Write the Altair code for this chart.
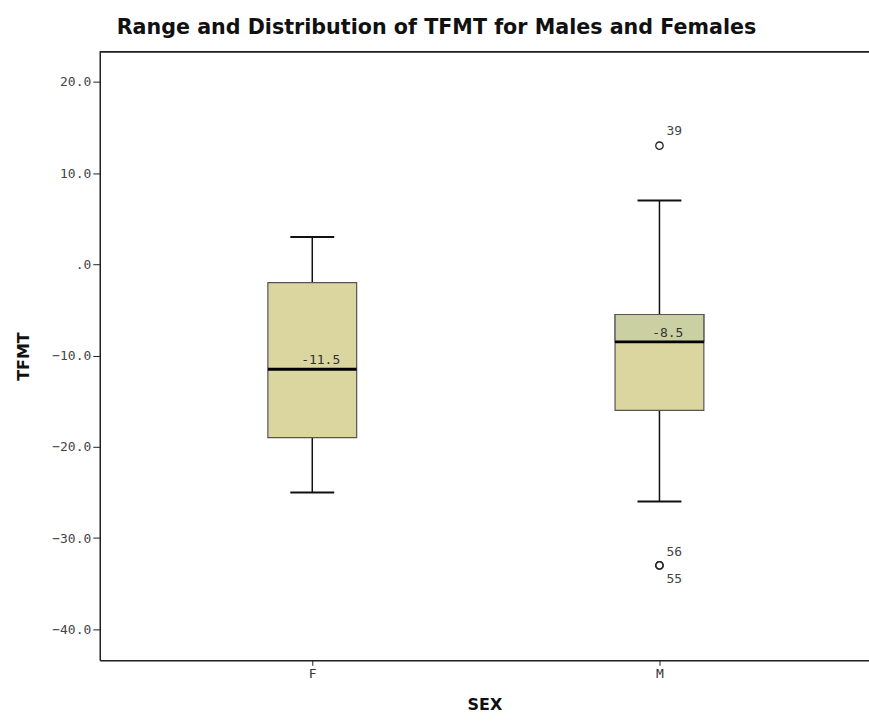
import altair as alt
import pandas as pd

# Summary statistics of TFMT by sex
sexes = ["F", "M"]
q1 = [-19.0, -16.0]
median = [-11.5, -8.5]
q3 = [-2.0, -5.5]
whisker_lo = [-25.0, -26.0]
whisker_hi = [3.0, 7.0]
median_labels = ["-11.5", "-8.5"]
median_dx = [28, 24]

# Outlying cases (case numbers as labels)
outlier_sex = ["M", "M", "M"]
outlier_value = [13.0, -33.0, -33.0]
outlier_label = ["39", "56", "55"]
outlier_dy = [-15, -13, 14]

stats = pd.DataFrame({
    "SEX": sexes, "q1": q1, "median": median, "q3": q3,
    "lo": whisker_lo, "hi": whisker_hi, "mlabel": median_labels,
})
outliers = pd.DataFrame({
    "SEX": outlier_sex, "value": outlier_value, "label": outlier_label,
})

FONT = "DejaVu Sans"
MONO = "DejaVu Sans Mono"
y_dom = [-43.4, 23.3]
PLOT_W = 771

x_enc = alt.X(
    "SEX:N",
    title="SEX",
    scale=alt.Scale(type="point", domain=sexes, padding=0.6078, align=0.5035),
    axis=alt.Axis(
        labelAngle=0, labelFont=MONO, labelFontSize=13, labelColor="#333",
        tickColor="#222", tickSize=5, domainColor="#222", domainWidth=1.5,
        titleFont=FONT, titleFontSize=16, titleFontWeight="bold",
        titleColor="#111", titlePadding=16, grid=False, labelPadding=2,
    ),
)
y_scale = alt.Scale(domain=y_dom, nice=False, zero=False)
y_axis = alt.Axis(
    values=[20, 10, 0, -10, -20, -30, -40],
    labelExpr="datum.value == 0 ? '.0' : format(datum.value, '.1f')",
    labelFont=MONO, labelFontSize=13, labelColor="#444",
    tickColor="#222", tickSize=7, domainColor="#222", domainWidth=1.5,
    titleFont=FONT, titleFontSize=16, titleFontWeight="bold",
    titleColor="#111", titlePadding=20, grid=False, labelPadding=2,
)

base = alt.Chart(stats).encode(x=x_enc)

whiskers = base.mark_rule(color="#111", strokeWidth=1.5).encode(
    y=alt.Y("lo:Q", scale=y_scale, axis=y_axis, title="TFMT"), y2="hi:Q"
)
boxes = base.mark_bar(
    size=89, fill="#dbd69f", stroke="#555", strokeWidth=1.2
).encode(y="q1:Q", y2="q3:Q")

# Upper segment of the male box is shaded slightly greener
upper_m = alt.Chart(stats).transform_filter("datum.SEX == 'M'").mark_bar(
    size=89, fill="#cad0a1", stroke="#555", strokeWidth=1.2
).encode(x=x_enc, y="median:Q", y2="q3:Q")

medians = base.mark_tick(
    size=89, thickness=3, color="#000", opacity=1, orient="horizontal"
).encode(y="median:Q")
cap_lo = base.mark_tick(
    size=44, thickness=2, color="#111", opacity=1, orient="horizontal"
).encode(y="lo:Q")
cap_hi = base.mark_tick(
    size=44, thickness=2, color="#111", opacity=1, orient="horizontal"
).encode(y="hi:Q")

med_texts = [
    alt.Chart(stats).transform_filter(alt.datum.SEX == s).mark_text(
        align="right", baseline="bottom", dx=dx, dy=-2,
        font=MONO, fontSize=13, color="#333",
    ).encode(x=x_enc, y="median:Q", text="mlabel:N")
    for s, dx in zip(sexes, median_dx)
]

pts = alt.Chart(outliers).mark_point(
    shape="circle", size=55, filled=False, color="#222", strokeWidth=1.3, opacity=1
).encode(x=x_enc, y="value:Q")

pt_texts = [
    alt.Chart(outliers).transform_filter(alt.datum.label == lab).mark_text(
        align="left", baseline="middle", dx=7, dy=dy,
        font=MONO, fontSize=13, color="#444",
    ).encode(x=x_enc, y="value:Q", text="label:N")
    for lab, dy in zip(outlier_label, outlier_dy)
]

# Top border of the plot frame
top_border = alt.Chart(stats).mark_rule(color="#222", strokeWidth=1.5).encode(
    x=alt.value(0), x2=alt.value(PLOT_W), y=alt.value(0)
)

chart = alt.layer(
    whiskers, boxes, upper_m, medians, cap_lo, cap_hi, *med_texts, pts, *pt_texts,
    top_border,
).properties(
    width=PLOT_W,
    height=610,
    title=alt.TitleParams(
        "Range and Distribution of TFMT for Males and Females",
        font=FONT, fontSize=20.7, fontWeight="bold", color="#111",
        anchor="middle", dx=-48, offset=12,
    ),
    autosize=alt.AutoSizeParams(type="none"),
    padding={"left": 100, "top": 51, "right": 0, "bottom": 65},
).configure_view(
    strokeWidth=0
).configure(background="white")

chart.save("out.html", embed_options={"renderer": "svg", "actions": False})
